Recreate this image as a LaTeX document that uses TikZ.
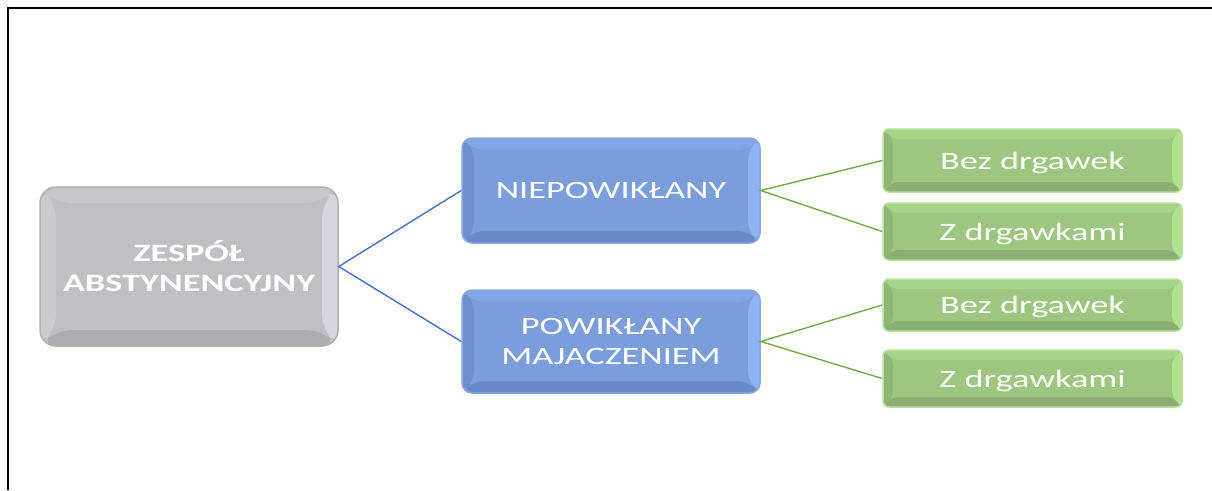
\documentclass[tikz,border=0pt]{standalone}
\usepackage{fontspec}
\usepackage{graphicx}
\setmainfont{Carlito}
\definecolor{grayfill}{HTML}{C0BFC4}
\definecolor{grayL}{HTML}{CACACF}
\definecolor{grayT}{HTML}{C8C8CC}
\definecolor{grayR}{HTML}{D6D6DC}
\definecolor{grayB}{HTML}{ADACB1}
\definecolor{grayline}{HTML}{B0B0B5}
\definecolor{bluefill}{HTML}{7B9DDC}
\definecolor{blueL}{HTML}{6E8FCD}
\definecolor{blueT}{HTML}{82A5E4}
\definecolor{blueR}{HTML}{8EB3F4}
\definecolor{blueB}{HTML}{6A8AC7}
\definecolor{blueline}{HTML}{8AA9E2}
\definecolor{greenfill}{HTML}{9DC680}
\definecolor{greenL}{HTML}{8FB775}
\definecolor{greenT}{HTML}{A8D48A}
\definecolor{greenR}{HTML}{B0E290}
\definecolor{greenB}{HTML}{8BAE72}
\definecolor{greenline}{HTML}{B6E29A}
\definecolor{conblue}{HTML}{4472C4}
\definecolor{congreen}{HTML}{70AD47}
\newcommand\widen[1]{\scalebox{1.45}[1]{#1}}
\tikzset{
  bevel/.style n args={5}{path picture={
    \coordinate (sw) at (path picture bounding box.south west);
    \coordinate (ne) at (path picture bounding box.north east);
    \coordinate (nw) at (path picture bounding box.north west);
    \coordinate (se) at (path picture bounding box.south east);
    \fill[#1] (sw) -- ([shift={(#5,#5)}]sw) -- ([shift={(#5,-#5)}]nw) -- (nw) -- cycle;
    \fill[#2] (nw) -- ([shift={(#5,-#5)}]nw) -- ([shift={(-#5,-#5)}]ne) -- (ne) -- cycle;
    \fill[#3] (ne) -- ([shift={(-#5,-#5)}]ne) -- ([shift={(-#5,#5)}]se) -- (se) -- cycle;
    \fill[#4] (se) -- ([shift={(-#5,#5)}]se) -- ([shift={(#5,#5)}]sw) -- (sw) -- cycle;
  }},
  basebox/.style={rectangle, text=white, align=center,
    font=\fontsize{25}{30}\selectfont, inner sep=0pt, line width=1.5pt},
  graybox/.style={basebox, font=\fontsize{25}{30}\selectfont\bfseries,
    fill=grayfill, draw=grayline, rounded corners=16pt,
    minimum width=298pt, minimum height=159pt,
    bevel={grayL}{grayT}{grayR}{grayB}{16pt}},
  bluebox/.style={basebox, fill=bluefill, draw=blueline, rounded corners=10pt,
    minimum width=298pt,
    bevel={blueL}{blueT}{blueR}{blueB}{12pt}},
  greenbox/.style={basebox, fill=greenfill, draw=greenline, rounded corners=6pt,
    minimum width=299pt, text depth=0pt,
    bevel={greenL}{greenT}{greenR}{greenB}{10pt}},
  conb/.style={draw=conblue, line width=1.4pt},
  cong/.style={draw=congreen, line width=1.4pt},
  frame/.style={draw=black, line width=2.5pt}
}
\begin{document}
\begin{tikzpicture}[x=1pt,y=-1pt]
\useasboundingbox (0,0) rectangle (1212,490);
\coordinate (fa) at (1212,8);
\coordinate (fb) at (8,8);
\coordinate (fc) at (8,490);
\draw[frame] (fa) -- (fb) -- (fc);

\node[graybox] (z) at (189,266.5) {\widen{ZESPÓŁ}\\\widen{ABSTYNENCYJNY}};
\node[bluebox, minimum height=105pt] (n1) at (611,190.5) {\widen{NIEPOWIKŁANY}};
\node[bluebox, minimum height=103pt] (n2) at (611,341.5) {\widen{POWIKŁANY}\\\widen{MAJACZENIEM}};
\node[greenbox, minimum height=63pt] (g1) at (1032.5,160.5) {\widen{Bez drgawek}};
\node[greenbox, minimum height=57pt] (g2) at (1032.5,231.5) {\widen{Z drgawkami}};
\node[greenbox, minimum height=52pt] (g3) at (1032.5,305) {\widen{Bez drgawek}};
\node[greenbox, minimum height=57pt] (g4) at (1032.5,378.5) {\widen{Z drgawkami}};

\draw[conb] (n1.west) -- (z.east) -- (n2.west);
\draw[cong] (g1.west) -- (n1.east) -- (g2.west);
\draw[cong] (g3.west) -- (n2.east) -- (g4.west);
\end{tikzpicture}
\end{document}
